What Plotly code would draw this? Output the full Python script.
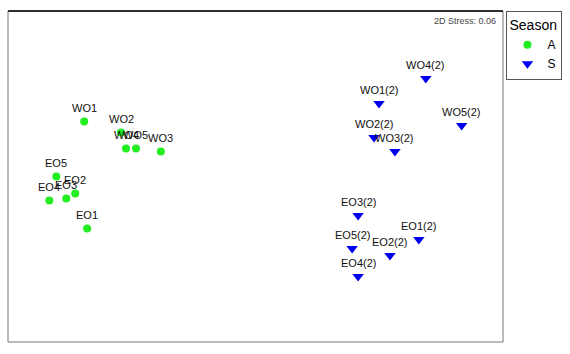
import plotly.graph_objects as go

a_labels = ["WO1", "WO2", "WO3", "WO4", "WO5", "EO1", "EO2", "EO3", "EO4", "EO5"]
a_x = [-1.72, -1.35, -0.95, -1.30, -1.20, -1.69, -1.81, -1.90, -2.07, -2.00]
a_y = [0.55, 0.44, 0.25, 0.28, 0.28, -0.52, -0.17, -0.22, -0.24, 0.00]

s_labels = ["WO1(2)", "WO2(2)", "WO3(2)", "WO4(2)", "WO5(2)",
            "EO1(2)", "EO2(2)", "EO3(2)", "EO4(2)", "EO5(2)"]
s_x = [1.24, 1.19, 1.40, 1.71, 2.07, 1.64, 1.35, 1.03, 1.03, 0.97]
s_y = [0.73, 0.39, 0.25, 0.98, 0.51, -0.63, -0.79, -0.39, -1.00, -0.72]

x_range = [-2.485, 2.485]
y_range = [-1.655, 1.655]

fig = go.Figure()
fig.add_trace(go.Scatter(x=a_x, y=a_y, mode="markers", name="A",
                         marker=dict(symbol="circle", size=8, color="#22ee22")))
fig.add_trace(go.Scatter(x=s_x, y=s_y, mode="markers", name="S",
                         marker=dict(symbol="triangle-down", size=10, color="#0000ee")))

annots = []
for lab, x, y in list(zip(a_labels, a_x, a_y)) + list(zip(s_labels, s_x, s_y)):
    annots.append(dict(x=x, y=y, text=lab, showarrow=False, yshift=14,
                       font=dict(family="Liberation Sans, Arial", size=11, color="#111111")))
annots.append(dict(xref="paper", yref="paper", x=0.99, y=0.99, xanchor="right", yanchor="top",
                   text="2D Stress: 0.06", showarrow=False,
                   font=dict(family="Liberation Sans, Arial", size=9, color="#444444")))

fig.update_layout(
    width=570, height=354,
    margin=dict(l=8, r=65, t=11, b=12),
    paper_bgcolor="white", plot_bgcolor="white",
    xaxis=dict(range=x_range, showgrid=False, zeroline=False, showticklabels=False, ticks=""),
    yaxis=dict(range=y_range, showgrid=False, zeroline=False, showticklabels=False, ticks=""),
    annotations=annots,
    shapes=[
        dict(type="rect", xref="paper", yref="paper", x0=0, y0=0, x1=1, y1=1,
             line=dict(color="#777777", width=1)),
        dict(type="line", xref="paper", yref="paper", x0=0, y0=1, x1=1, y1=1,
             line=dict(color="black", width=1.5)),
    ],
    legend=dict(x=1.007, y=1.0, xanchor="left", yanchor="top",
                bordercolor="#555555", borderwidth=1, bgcolor="white",
                title=dict(text="Season", font=dict(family="Liberation Sans, Arial", size=14, color="black")),
                font=dict(family="Liberation Sans, Arial", size=12, color="black"),
                itemwidth=30, tracegroupgap=0),
    showlegend=True,
)

fig.write_html("out.html")
